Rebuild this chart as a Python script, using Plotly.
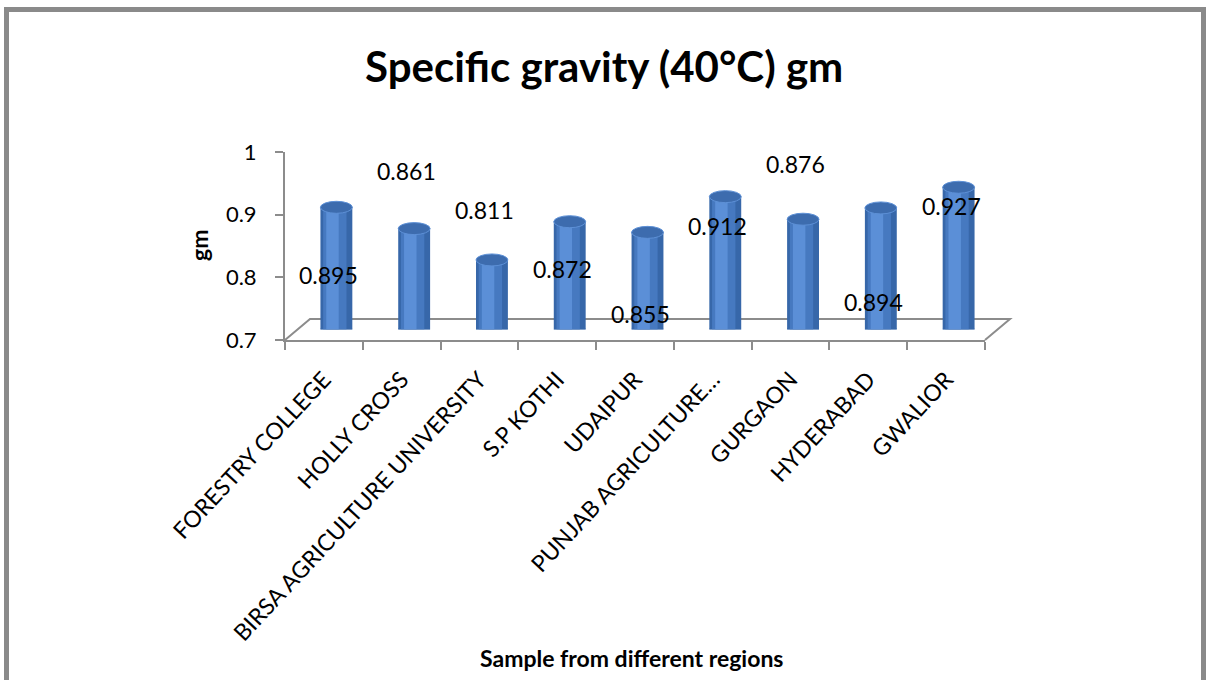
import plotly.graph_objects as go

# ---- data ----
categories = ["FORESTRY COLLEGE", "HOLLY CROSS", "BIRSA AGRICULTURE UNIVERSITY",
              "S.P KOTHI", "UDAIPUR", "PUNJAB AGRICULTURE…", "GURGAON",
              "HYDERABAD", "GWALIOR"]
values = [0.895, 0.861, 0.811, 0.872, 0.855, 0.912, 0.876, 0.894, 0.927]
value_labels = ["0.895", "0.861", "0.811", "0.872", "0.855", "0.912", "0.876", "0.894", "0.927"]
y_ticks = [0.7, 0.8, 0.9, 1.0]
y_tick_text = ["0.7", "0.8", "0.9", "1"]

# label placement (in axis units) as drawn in the original chart
label_y = [0.803, 0.969, 0.907, 0.813, 0.742, 0.882, 0.981, 0.761, 0.914]

W, H = 1211, 680
def px(x):
    return x / W
def py(y):
    return (H - y) / H

BASE = 0.7
FONT = "Lato"

# plot geometry (pixels)
X0, X1 = 285, 985
Y0, Y1 = 152, 340
DX, DY = 25, 21  # 3D depth offset

fig = go.Figure()

layers = [
    (0.41, 0.0, "#3767a9"),
    (0.30, -0.02, "#4679c0"),
    (0.16, -0.05, "#5b8fd7"),
]
for w, shift, col in layers:
    fig.add_trace(go.Bar(
        x=categories, y=[v - BASE for v in values], base=BASE,
        width=w, offset=-w / 2 + shift,
        marker=dict(color=col, line=dict(width=0)),
        xaxis="x2", yaxis="y2", hoverinfo="skip", showlegend=False,
    ))

# cylinder top / bottom ellipses
for i, v in enumerate(values):
    fig.add_shape(type="circle", xref="x2", yref="y2",
                  x0=i - 0.205, x1=i + 0.205,
                  ysizemode="pixel", yanchor=v, y0=-6, y1=6,
                  fillcolor="#3d6cae", line=dict(color="#5d90d6", width=1))
    fig.add_shape(type="circle", xref="x2", yref="y2",
                  x0=i - 0.205, x1=i + 0.205,
                  ysizemode="pixel", yanchor=BASE, y0=-5, y1=5,
                  fillcolor="#3767a9", line=dict(width=0), layer="below")

# value labels
for c, t, ly in zip(categories, value_labels, label_y):
    fig.add_annotation(x=c, y=ly, xref="x", yref="y", text=t, showarrow=False,
                       xshift=5, xanchor="center", yanchor="middle",
                       font=dict(family=FONT, size=23, color="#000000"))

grey = "#8c8c8c"
# floor (3D) outline
fig.add_shape(type="path", xref="paper", yref="paper",
              path=f"M {px(X0)} {py(Y1)} L {px(X0+DX)} {py(Y1-DY)} L {px(X1+DX)} {py(Y1-DY)} L {px(X1)} {py(Y1)}",
              line=dict(color=grey, width=2), layer="below")

# outer border
fig.add_shape(type="rect", xref="paper", yref="paper",
              x0=px(6.5), x1=px(1203.5), y0=py(9.5), y1=py(700),
              line=dict(color="#8a8a8a", width=5))

fig.update_layout(
    width=W, height=H,
    margin=dict(l=0, r=0, t=0, b=0, autoexpand=False),
    paper_bgcolor="white", plot_bgcolor="rgba(0,0,0,0)",
    barmode="overlay", showlegend=False,
    font=dict(family=FONT, color="#000000"),
    xaxis=dict(domain=[px(X0), px(X1)], anchor="y", type="category",
               categoryorder="array", categoryarray=categories,
               range=[-0.5, len(categories) - 0.5], automargin=False,
               showline=True, linecolor=grey, linewidth=2,
               ticks="outside", ticklen=8, tickcolor=grey, tickwidth=2,
               tickson="boundaries", tickangle=-47, ticklabelstandoff=15,
               tickfont=dict(family=FONT, size=23, color="#000000"),
               showgrid=False, zeroline=False, fixedrange=True),
    yaxis=dict(domain=[py(Y1), py(Y0)], anchor="x", range=[0.7, 1.0],
               tickvals=y_ticks, ticktext=y_tick_text, automargin=False,
               showline=True, linecolor=grey, linewidth=2,
               ticks="outside", ticklen=8, tickcolor=grey, tickwidth=2,
               ticklabelstandoff=14,
               tickfont=dict(family=FONT, size=22, color="#000000"),
               showgrid=False, zeroline=False, fixedrange=True),
    xaxis2=dict(domain=[px(X0 + DX / 2), px(X1 + DX / 2)], anchor="y2", type="category",
                categoryorder="array", categoryarray=categories, automargin=False,
                range=[-0.5, len(categories) - 0.5], visible=False, fixedrange=True),
    yaxis2=dict(domain=[py(Y1 - DY / 2), py(Y0 - DY / 2)], anchor="x2", automargin=False,
                range=[0.7, 1.0], visible=False, fixedrange=True),
)

fig.add_annotation(text="<b>Specific gravity (40°C) gm</b>", xref="paper", yref="paper",
                   x=px(604), y=py(66), xanchor="center", yanchor="middle", showarrow=False,
                   font=dict(family=FONT, size=42, color="#000000"))
fig.add_annotation(text="<b>Sample from different regions</b>", xref="paper", yref="paper",
                   x=px(631), y=py(658), xanchor="center", yanchor="middle", showarrow=False,
                   font=dict(family=FONT, size=23, color="#000000"))
fig.add_annotation(text="<b>gm</b>", xref="paper", yref="paper",
                   x=px(199), y=py(246), xanchor="center", yanchor="middle",
                   showarrow=False, textangle=-90,
                   font=dict(family=FONT, size=23, color="#000000"))

fig.write_html("out.html")
